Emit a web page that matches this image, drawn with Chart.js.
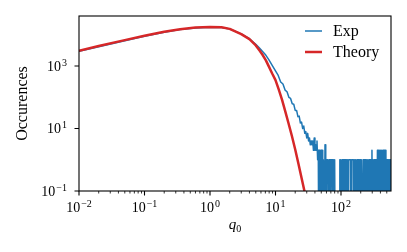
<!DOCTYPE html>
<html>
<head>
<meta charset="utf-8">
<script src="https://cdn.jsdelivr.net/npm/chart.js@4.4.0/dist/chart.umd.min.js"></script>
<style>
  html, body { margin: 0; padding: 0; background: #fff; }
  canvas { display: block; }
</style>
</head>
<body>
<canvas id="chart" width="407" height="252"></canvas>
<script>
const seriesNames = ["Exp", "Theory"];

const theoryX = [0.01, 0.02, 0.05, 0.1, 0.2, 0.35, 0.6, 1, 1.5, 2, 3, 4, 5, 5.6, 6.3, 7.1, 7.9, 8.9,
  10, 11.2, 12.6, 14.1, 15.8, 17.8, 20, 22.4, 25.1, 28.2, 31.6];
const theoryY = [3090, 4370, 6760, 9330, 12600, 15100, 17000, 17800, 17400, 15500, 10500, 7240, 4570, 3310, 2340, 1550, 977, 575,
  355, 178, 83, 35.5, 14.8, 5.75, 2.14, 0.74, 0.25, 0.083, 0.025];

const expX = [0.01, 0.02, 0.05, 0.1, 0.2, 0.35, 0.6, 1, 1.5, 2, 3, 4, 5, 5.6, 6.3, 7.1, 7.9, 8.9,
  10, 11, 12, 13, 14, 15, 16, 17, 18, 19, 20, 21, 22, 23, 24, 25, 26, 27, 28, 29, 30,
  31, 32, 33, 34, 35, 36, 37, 38, 39, 40, 41, 42, 43, 44, 45,
  45.8, 46.6, 47.4, 48.2, 49, 49.8, 50.6, 51.4, 52.2, 53, 53.8, 55.5, 57, 58.5, 60, 61, 62.5, 64,
  65.5, 66.5, 68, 69.5, 71, 72.5, 74, 75.5, 77, 78.5, 80, 81.5, 88, 95,
  96, 98, 100, 102, 105, 107, 109, 111, 113, 115, 117, 119, 121, 124, 126, 129, 131, 134, 137, 140,
  143, 146, 149, 152, 155, 158, 161, 164, 168, 172, 176, 180, 184, 188, 192, 196, 200, 204, 208, 212,
  217, 221, 226, 230, 234, 239, 244, 250, 256, 262, 268, 274, 280, 286, 292, 297, 302, 308, 314, 320,
  326, 333, 340, 347, 354, 360, 367, 374, 381, 388, 396, 404, 412, 420, 429, 438, 447, 456, 465, 475,
  485, 490, 500, 510, 520, 531, 542, 553, 564, 575, 580];
const expY = [2950, 4170, 6460, 8900, 12000, 14800, 16600, 17400, 17000, 15300, 10700, 7500, 5000, 3900, 2950, 2240, 1600, 1050,
  700, 500, 310, 265, 170, 150, 100, 92, 62, 60, 38, 38, 24, 25, 15, 16, 10, 12, 7, 8, 5,
  7, 4, 5, 3, 4, 3, 4, 2, 5, 2, 3, 2, 4, 1, 2,
  0, 2, 1, 0, 2, 2, 0, 2, 1, 0, 1, 0, 3, 0, 1, 1, 1, 0,
  1, 1, 1, 0, 1, 1, 1, 0, 1, 0, 1, 0, 0, 0,
  1, 0, 1, 0, 1, 1, 1, 0, 1, 0, 1, 1, 1, 0, 1, 0, 1, 1, 1, 1,
  0, 1, 1, 1, 1, 0, 1, 0, 1, 0, 1, 0, 1, 0, 1, 0, 1, 1, 1, 0,
  1, 0, 1, 1, 1, 0, 1, 0, 1, 0, 1, 0, 1, 0, 1, 2, 0, 1, 0, 1,
  0, 1, 0, 1, 0, 2, 0, 2, 0, 2, 0, 2, 0, 2, 0, 2, 0, 2, 0, 2,
  0, 1, 0, 1, 0, 1, 0, 1, 0, 1, 1];

const xTicks = [0.01, 0.1, 1, 10, 100];
const xTickLabels = ["\u22122", "\u22121", "0", "1", "2"];
const yTicks = [0.1, 10, 1000];
const yTickLabels = ["\u22121", "1", "3"];

// empty bins can't sit on a log axis, drop them below the frame like matplotlib does
const zeroFloor = 1e-3;

const xMinor = [];
for (const d of [0.01, 0.1, 1, 10, 100]) {
  for (let k = 2; k <= 9; k++) {
    if (k * d <= 580) xMinor.push(k * d);
  }
}

const serif = "'Liberation Serif', 'DejaVu Serif', serif";

function drawPow(ctx, exp, x, y, mode) {
  ctx.font = "14px " + serif;
  const w10 = ctx.measureText("10").width;
  ctx.font = "10px " + serif;
  const we = ctx.measureText(exp).width;
  const total = w10 + 1 + we;
  let start;
  let base10;
  let baseExp;
  if (mode === "y") {
    start = x - total;
    base10 = y + 4.7;
    baseExp = y - 0.3;
  } else {
    start = x - total / 2;
    base10 = y;
    baseExp = y - 5.5;
  }
  ctx.textAlign = "left";
  ctx.textBaseline = "alphabetic";
  ctx.font = "14px " + serif;
  ctx.fillText("10", start, base10);
  ctx.font = "10px " + serif;
  ctx.fillText(exp, start + w10 + 1, baseExp);
}

const axesPlugin = {
  id: "axesPlugin",
  afterDatasetsDraw(chart) {
    const { ctx, chartArea: a } = chart;
    const xs = chart.scales.x;
    const ys = chart.scales.y;
    ctx.save();
    ctx.strokeStyle = "#000";
    ctx.fillStyle = "#000";

    // frame
    ctx.lineWidth = 1.1;
    ctx.strokeRect(a.left, a.top, a.right - a.left, a.bottom - a.top);

    // major ticks
    ctx.beginPath();
    xTicks.forEach((v) => {
      const px = xs.getPixelForValue(v);
      ctx.moveTo(px, a.bottom);
      ctx.lineTo(px, a.bottom + 4.5);
    });
    yTicks.forEach((v) => {
      const py = ys.getPixelForValue(v);
      ctx.moveTo(a.left, py);
      ctx.lineTo(a.left - 4.5, py);
    });
    ctx.stroke();

    // minor ticks
    ctx.lineWidth = 0.8;
    ctx.beginPath();
    xMinor.forEach((v) => {
      const px = xs.getPixelForValue(v);
      ctx.moveTo(px, a.bottom);
      ctx.lineTo(px, a.bottom + 2.5);
    });
    ctx.stroke();

    // tick labels
    xTicks.forEach((v, i) => {
      drawPow(ctx, xTickLabels[i], xs.getPixelForValue(v), 212, "x");
    });
    yTicks.forEach((v, i) => {
      drawPow(ctx, yTickLabels[i], 67, ys.getPixelForValue(v), "y");
    });

    // axis titles
    const cx = (a.left + a.right) / 2;
    ctx.font = "italic 15px " + serif;
    const wq = ctx.measureText("q").width;
    ctx.font = "10px " + serif;
    const w0 = ctx.measureText("0").width;
    const qs = cx - (wq + w0) / 2;
    ctx.font = "italic 15px " + serif;
    ctx.fillText("q", qs, 229);
    ctx.font = "10px " + serif;
    ctx.fillText("0", qs + wq, 232);

    ctx.save();
    ctx.translate(27, (a.top + a.bottom) / 2);
    ctx.rotate(-Math.PI / 2);
    ctx.textAlign = "center";
    ctx.font = "16px " + serif;
    ctx.fillText("Occurences", 0, 0);
    ctx.restore();

    // legend inside the axes, top right
    const colors = ["#1f77b4", "#d62728"];
    const widths = [1.5, 2.5];
    const rows = [31, 52];
    seriesNames.forEach((name, i) => {
      ctx.strokeStyle = colors[i];
      ctx.lineWidth = widths[i];
      ctx.beginPath();
      ctx.moveTo(305, rows[i]);
      ctx.lineTo(322, rows[i]);
      ctx.stroke();
      ctx.fillStyle = "#000";
      ctx.font = "16px " + serif;
      ctx.textAlign = "left";
      ctx.fillText(name, 333, rows[i] + 5);
    });

    ctx.restore();
  },
};

const theoryData = theoryX.map((x, i) => ({ x: x, y: theoryY[i] }));
const expData = expX.map((x, i) => ({ x: x, y: expY[i] > 0 ? expY[i] : zeroFloor }));

new Chart(document.getElementById("chart"), {
  type: "line",
  data: {
    datasets: [
      {
        label: seriesNames[1],
        data: theoryData,
        borderColor: "#d62728",
        borderWidth: 2.5,
        pointRadius: 0,
        tension: 0,
        borderJoinStyle: "round",
        clip: 0,
      },
      {
        label: seriesNames[0],
        data: expData,
        borderColor: "#1f77b4",
        borderWidth: 1.5,
        pointRadius: 0,
        tension: 0,
        borderJoinStyle: "round",
        clip: 0,
      },
    ],
  },
  options: {
    responsive: false,
    animation: false,
    layout: {
      padding: { left: 79, top: 16, right: 16, bottom: 61 },
    },
    plugins: {
      legend: { display: false },
      tooltip: { enabled: false },
    },
    scales: {
      x: { type: "logarithmic", min: 0.01, max: 580, display: false },
      y: { type: "logarithmic", min: 0.1, max: 40000, display: false },
    },
  },
  plugins: [axesPlugin],
});
</script>
</body>
</html>
